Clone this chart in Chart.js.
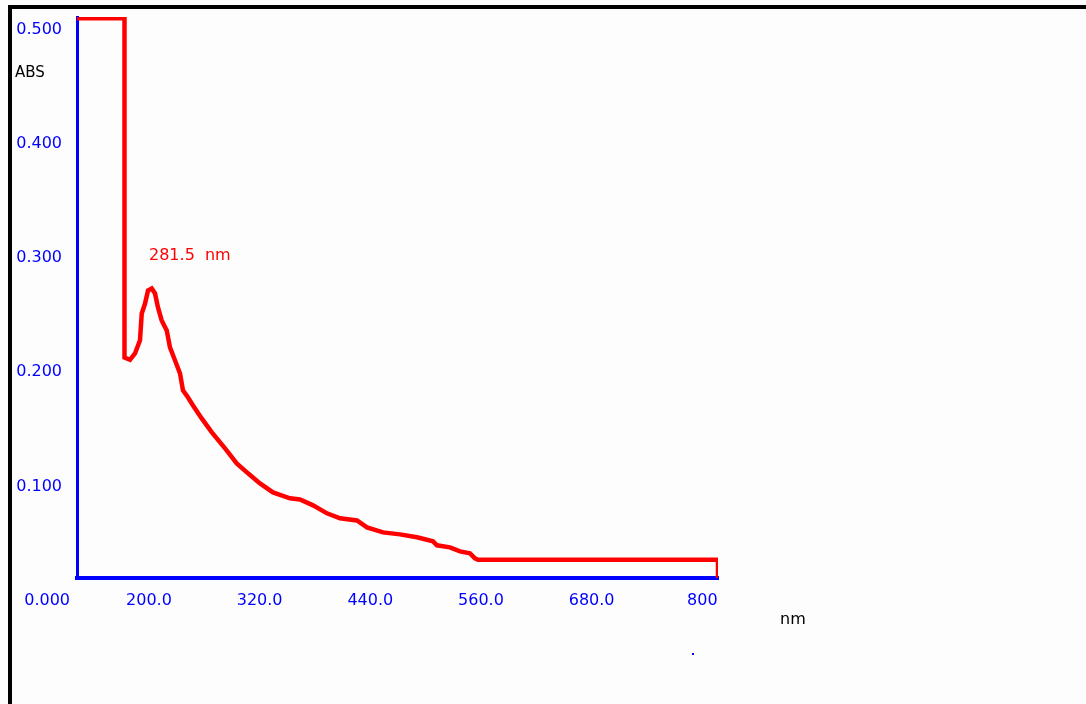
<!DOCTYPE html>
<html>
<head>
<meta charset="utf-8">
<script src="https://cdn.jsdelivr.net/npm/chart.js@4/dist/chart.umd.min.js"></script>
<style>
  html, body { margin: 0; padding: 0; background: #fdfdfd; }
  #wrap { position: relative; width: 1086px; height: 704px; }
  #frame {
    position: absolute; left: 8px; top: 5px; right: 0; bottom: 0;
    border-top: 4px solid #000; border-left: 4px solid #000;
    pointer-events: none;
  }
</style>
</head>
<body>
<div id="wrap">
  <canvas id="spec" width="1086" height="704"></canvas>
  <div id="frame"></div>
</div>
<script>
// spectrum (x in nm along the printed axis, y in ABS)
const wavelengths = [122, 173.5, 173.5, 179.5, 184.9, 190.3, 192.2, 195.7, 199, 203, 206.6, 209.8,
  213.8, 219.3, 222.8, 228.3, 233.7, 236.9, 242.4, 247.8, 257.2, 268, 282.5, 295.2, 307.4,
  320.4, 334.5, 352.9, 363.8, 377.9, 393, 407.2, 425.6, 436.4, 453.8, 472.2, 490.6, 508,
  512.3, 526.4, 537.3, 548.1, 553.5, 556.8, 817, 817];
const absorbance = [0.510, 0.510, 0.213, 0.211, 0.2165, 0.228, 0.2515, 0.260, 0.2717, 0.2734,
  0.269, 0.2568, 0.2454, 0.2367, 0.2218, 0.2104, 0.199, 0.1842, 0.178, 0.171, 0.1597, 0.1477,
  0.1334, 0.1203, 0.1116, 0.1028, 0.0949, 0.0897, 0.0888, 0.0836, 0.0766, 0.0722, 0.0704,
  0.0643, 0.0599, 0.0582, 0.0556, 0.0521, 0.0486, 0.0468, 0.0433, 0.0416, 0.0372, 0.0359,
  0.0359, 0.020];

const xTicks = [200, 320, 440, 560, 680, 800];
const xTickLabels = ['200.0', '320.0', '440.0', '560.0', '680.0', '800'];
const yTicks = [0.1, 0.2, 0.3, 0.4, 0.5];
const yTickLabels = ['0.100', '0.200', '0.300', '0.400', '0.500'];

const peakLabel = '281.5  nm';

const FONT = 'DejaVu Sans';
const BLUE = '#0000ff';
const RED = '#ff0000';

// extra texts around the plot
const textsPlugin = {
  id: 'texts',
  afterDraw(chart) {
    const ctx = chart.ctx;
    const area = chart.chartArea;
    ctx.save();
    ctx.textBaseline = 'middle';

    ctx.font = '15px "' + FONT + '"';
    ctx.fillStyle = '#000';
    ctx.textAlign = 'left';
    ctx.fillText('ABS', 15, 73);

    ctx.font = '16px "' + FONT + '"';
    ctx.fillText('nm', 780, 620);

    ctx.fillStyle = BLUE;
    ctx.textAlign = 'right';
    ctx.fillText('0.000', area.left - 7, 601);
    ctx.fillRect(692, 653, 2, 2);

    ctx.fillStyle = RED;
    ctx.textAlign = 'left';
    ctx.fillText(peakLabel, 149, 256);
    ctx.restore();
  }
};

new Chart(document.getElementById('spec'), {
  type: 'line',
  data: {
    datasets: [{
      data: wavelengths.map((w, i) => ({ x: w, y: absorbance[i] })),
      borderColor: RED,
      borderWidth: 4.5,
      pointRadius: 0,
      tension: 0,
      fill: false
    }]
  },
  options: {
    responsive: false,
    animation: false,
    layout: { padding: { top: 17, right: 368, left: 0, bottom: 0 } },
    plugins: { legend: { display: false }, tooltip: { enabled: false } },
    scales: {
      x: {
        type: 'linear',
        min: 122,
        max: 817,
        grid: { display: false, drawTicks: false },
        border: { color: BLUE, width: 4 },
        afterBuildTicks: s => { s.ticks = xTicks.map(v => ({ value: v })); },
        afterFit: s => { s.height = 126; },
        ticks: {
          color: BLUE,
          font: { family: FONT, size: 16 },
          padding: 13,
          maxRotation: 0,
          autoSkip: false,
          callback: (v, i) => xTickLabels[i]
        }
      },
      y: {
        min: 0.02,
        max: 0.511,
        grid: { display: false, drawTicks: false },
        border: { color: BLUE, width: 3 },
        afterBuildTicks: s => { s.ticks = yTicks.map(v => ({ value: v })); },
        afterFit: s => { s.width = 77; s.paddingTop = 0; s.paddingBottom = 0; },
        ticks: {
          color: BLUE,
          font: { family: FONT, size: 16 },
          padding: 15,
          autoSkip: false,
          callback: (v, i) => yTickLabels[i]
        }
      }
    }
  },
  plugins: [textsPlugin]
});
</script>
</body>
</html>
